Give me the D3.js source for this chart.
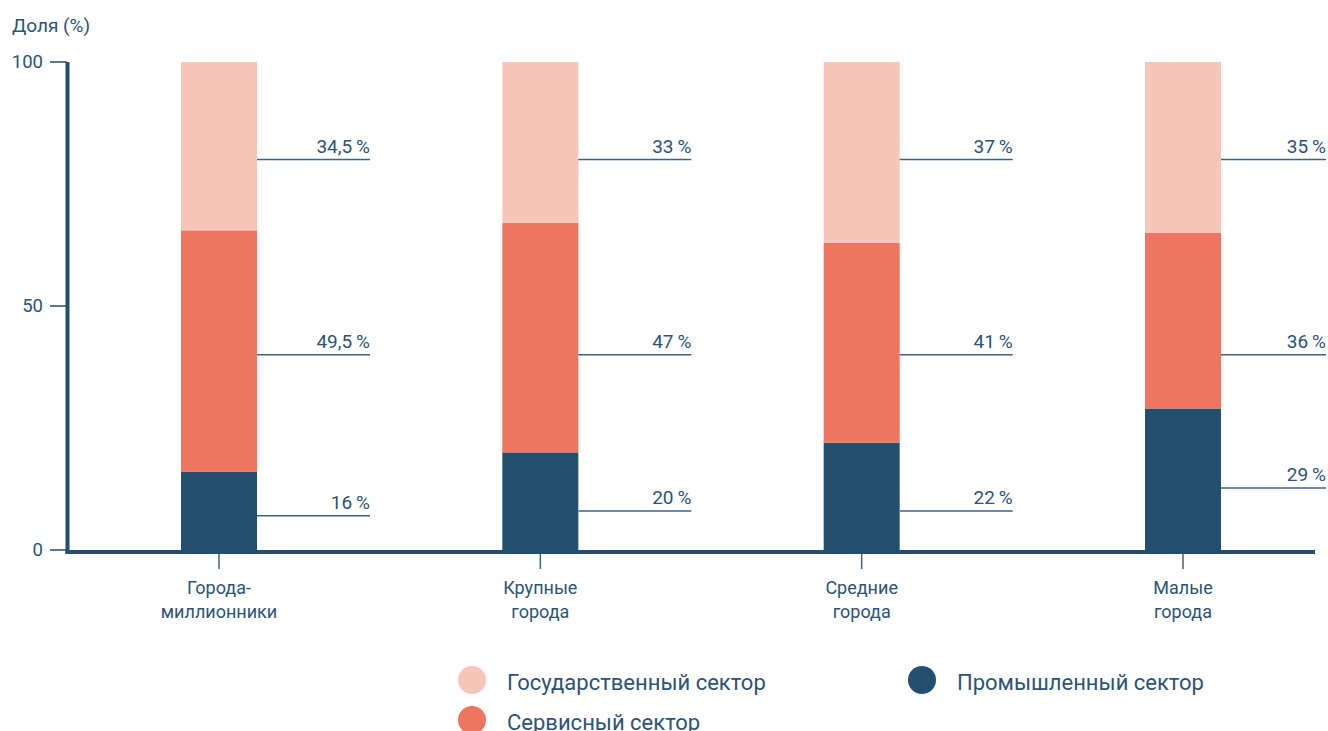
<!DOCTYPE html>
<html>
<head>
    <meta charset="utf-8">
    <title>Доля секторов</title>
    <script src="https://cdn.jsdelivr.net/npm/d3@7"></script>
    <style>
        body { margin: 0; background: #fff; }
        text { font-family: Roboto, "Noto Sans", sans-serif; fill: #2d5375; }
    </style>
</head>
<body>
    <div id="chart"></div>
    <script>
        // city groups (two lines each)
        const cities = [["Города-", "миллионники"], ["Крупные", "города"], ["Средние", "города"], ["Малые", "города"]];
        const industry = [16, 20, 22, 29];
        const service = [49.5, 47, 41, 36];
        const government = [34.5, 33, 37, 35];
        // where each callout line sits, in %: [government, service, industry]
        const calloutAt = [[80, 40, 7], [80, 40, 8], [80, 40, 8], [80, 40, 12.7]];
        const yTicks = [0, 50, 100];
        const sectors = ["industry", "service", "government"];
        const sectorNames = { government: "Государственный сектор", service: "Сервисный сектор", industry: "Промышленный сектор" };
        const colors = { government: "#f8c5b9", service: "#ee7660", industry: "#224f6e" };

        const W = 1328, H = 731;
        const svg = d3.select("#chart").append("svg").attr("width", W).attr("height", H);

        const x = d3.scalePoint().domain(d3.range(cities.length)).range([219, 1183]);
        const y = d3.scaleLinear().domain([0, 100]).range([550, 62]);
        const barW = 76;

        const rows = cities.map((c, i) => ({ i, industry: industry[i], service: service[i], government: government[i] }));
        const stack = d3.stack().keys(sectors)(rows);

        svg.append("g").selectAll("g").data(stack).join("g")
            .attr("fill", d => colors[d.key])
            .selectAll("rect").data(d => d).join("rect")
            .attr("x", d => x(d.data.i) - barW / 2)
            .attr("width", barW)
            .attr("y", d => y(d[1]))
            .attr("height", d => y(d[0]) - y(d[1]));

        // callouts
        const fmt = v => String(v).replace(".", ",") + "\u2009%";
        const lineEnd = i => Math.min(x(i) + barW / 2 + 113, W - 2);
        const callouts = [];
        rows.forEach(r => {
            callouts.push({ i: r.i, v: r.government, at: calloutAt[r.i][0] });
            callouts.push({ i: r.i, v: r.service, at: calloutAt[r.i][1] });
            callouts.push({ i: r.i, v: r.industry, at: calloutAt[r.i][2] });
        });
        const cg = svg.append("g");
        cg.selectAll("line").data(callouts).join("line")
            .attr("x1", d => x(d.i) + barW / 2)
            .attr("x2", d => lineEnd(d.i))
            .attr("y1", d => y(d.at)).attr("y2", d => y(d.at))
            .attr("stroke", "#3d6384").attr("stroke-width", 1.5);
        cg.selectAll("text").data(callouts).join("text")
            .attr("x", d => lineEnd(d.i))
            .attr("y", d => y(d.at) - 7)
            .attr("text-anchor", "end")
            .attr("font-size", 19)
            .text(d => fmt(d.v));

        // y axis
        const ya = svg.append("g");
        ya.selectAll("line").data(yTicks).join("line")
            .attr("x1", 50).attr("x2", 67)
            .attr("y1", d => y(d)).attr("y2", d => y(d))
            .attr("stroke", "#224f6e").attr("stroke-width", 1.5);
        ya.selectAll("text").data(yTicks).join("text")
            .attr("x", 43).attr("y", d => y(d))
            .attr("dy", "0.35em")
            .attr("text-anchor", "end")
            .attr("font-size", 18.5)
            .text(d => d);
        svg.append("line")
            .attr("x1", 67.5).attr("x2", 67.5)
            .attr("y1", y(100)).attr("y2", y(0) + 4)
            .attr("stroke", "#224f6e").attr("stroke-width", 4);
        svg.append("line")
            .attr("x1", 65.5).attr("x2", 1315)
            .attr("y1", y(0) + 2).attr("y2", y(0) + 2)
            .attr("stroke", "#224f6e").attr("stroke-width", 4);
        svg.append("text").attr("x", 12).attr("y", 25).attr("dy", "0.35em")
            .attr("font-size", 19).text("Доля (%)");

        // x axis
        const xa = svg.append("g");
        xa.selectAll("line").data(rows).join("line")
            .attr("x1", d => x(d.i)).attr("x2", d => x(d.i))
            .attr("y1", 554).attr("y2", 569)
            .attr("stroke", "#3d6384").attr("stroke-width", 1.5);
        xa.selectAll("text").data(rows).join("text")
            .attr("x", d => x(d.i)).attr("y", 594)
            .attr("text-anchor", "middle")
            .attr("font-size", 18)
            .selectAll("tspan").data(d => cities[d.i]).join("tspan")
            .attr("x", function () { return d3.select(this.parentNode).attr("x"); })
            .attr("dy", (d, k) => k === 0 ? 0 : 24)
            .text(d => d);

        // legend
        const legend = [
            { key: "government", cx: 472, cy: 680 },
            { key: "industry", cx: 922, cy: 680 },
            { key: "service", cx: 472, cy: 720 }
        ];
        const lg = svg.append("g");
        lg.selectAll("circle").data(legend).join("circle")
            .attr("cx", d => d.cx).attr("cy", d => d.cy).attr("r", 14)
            .attr("fill", d => colors[d.key]);
        lg.selectAll("text").data(legend).join("text")
            .attr("x", d => d.cx + 35).attr("y", d => d.cy + 2)
            .attr("dy", "0.35em")
            .attr("font-size", 22)
            .text(d => sectorNames[d.key]);
    </script>
</body>
</html>
